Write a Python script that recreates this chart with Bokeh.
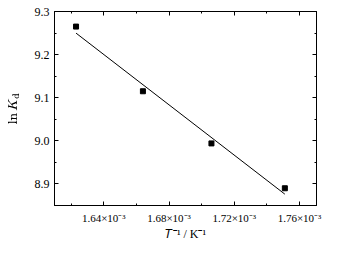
import numpy as np
from bokeh.plotting import figure
from bokeh.models import Range1d, LinearAxis, FixedTicker
from bokeh.embed import file_html
from bokeh.resources import INLINE

# data (x in units of 1e-3 K^-1)
inv_T = [1.623, 1.664, 1.706, 1.751]
ln_Kd = [9.265, 9.115, 8.994, 8.890]

x_ticks = [1.64, 1.68, 1.72, 1.76]
x_tick_labels = ["1.64×10⁻³", "1.68×10⁻³", "1.72×10⁻³", "1.76×10⁻³"]
x_minor = [1.62, 1.66, 1.70, 1.74]
y_ticks = [8.9, 9.0, 9.1, 9.2, 9.3]
y_tick_labels = ["8.9", "9.0", "9.1", "9.2", "9.3"]
y_minor = [8.85, 8.95, 9.05, 9.15, 9.25]
x_title = "𝑇⁻¹ / K⁻¹"
y_title = r"$$\ln K_\mathrm{d}$$"

coef = np.polyfit(inv_T, ln_Kd, 1)
fit_x = [inv_T[0], inv_T[-1]]
fit_y = list(np.polyval(coef, fit_x))

FONT = "Liberation Serif"

p = figure(width=337, height=257, output_backend="svg", toolbar_location=None,
           x_range=Range1d(1.6098, 1.7704), y_range=Range1d(8.85, 9.3),
           min_border_left=54, min_border_right=21, min_border_top=11, min_border_bottom=52,
           x_axis_location=None, y_axis_location=None)
p.grid.visible = False
p.outline_line_color = "black"
p.outline_line_width = 1
p.background_fill_color = "white"
p.border_fill_color = "white"

def style(ax, ticks, minor, labels, show):
    ax.ticker = FixedTicker(ticks=ticks, minor_ticks=minor)
    ax.axis_line_color = "black"
    ax.major_tick_in = 4
    ax.major_tick_out = 0
    ax.minor_tick_in = 2
    ax.minor_tick_out = 0
    ax.major_tick_line_color = "black"
    ax.minor_tick_line_color = "black"
    ax.major_label_text_font = FONT
    ax.major_label_text_color = "black"
    ax.axis_label_text_font = FONT
    ax.axis_label_text_font_style = "normal"
    ax.axis_label_text_color = "black"
    ax.axis_label_text_font_size = "12px"
    if show:
        ax.major_label_overrides = {t: l for t, l in zip(ticks, labels)}
    else:
        ax.major_label_text_font_size = "0px"
        ax.major_label_standoff = 0

xb = LinearAxis(); style(xb, x_ticks, x_minor, x_tick_labels, True)
xb.major_label_text_font_size = "11px"; xb.major_label_standoff = 6
xb.axis_label = x_title; xb.axis_label_standoff = 0
yl = LinearAxis(); style(yl, y_ticks, y_minor, y_tick_labels, True)
yl.major_label_text_font_size = "12px"; yl.major_label_standoff = 5
yl.axis_label = y_title; yl.axis_label_standoff = 10
xt = LinearAxis(); style(xt, x_ticks, x_minor, x_tick_labels, False)
yr = LinearAxis(); style(yr, y_ticks, y_minor, y_tick_labels, False)
p.add_layout(xb, "below")
p.add_layout(yl, "left")
p.add_layout(xt, "above")
p.add_layout(yr, "right")

p.line(fit_x, fit_y, line_color="black", line_width=1)
p.scatter(inv_T, ln_Kd, marker="square", size=5, fill_color="black", line_color="black")

out = open("out.html", "w")
out.write(file_html(p, INLINE))
out.close()
